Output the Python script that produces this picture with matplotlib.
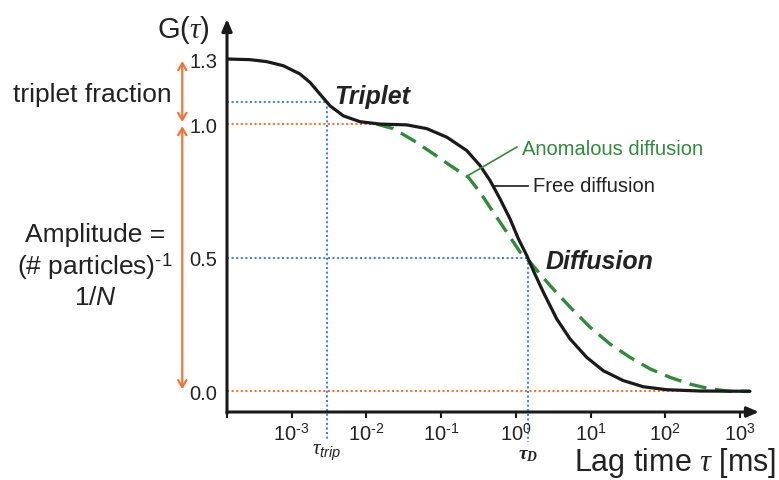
import numpy as np
import matplotlib.pyplot as plt
from matplotlib.ticker import FixedLocator, FuncFormatter, NullFormatter

plt.rcParams['font.family'] = 'Liberation Sans'
plt.rcParams['mathtext.fontset'] = 'custom'
plt.rcParams['mathtext.rm'] = 'Liberation Sans'
plt.rcParams['mathtext.it'] = 'Liberation Serif:italic'
plt.rcParams['mathtext.sf'] = 'Liberation Sans:italic'
plt.rcParams['mathtext.bf'] = 'Liberation Serif:bold:italic'

# values (lag time in ms, G(tau))
free_tau = [1.39e-4, 2.77e-4, 4.62e-4, 7.73e-4, 1.29e-3, 1.76e-3, 2.39e-3, 3.26e-3,
            4.91e-3, 8.20e-3, 1.52e-2, 3.46e-2, 6.41e-2, 0.119, 0.220, 0.331, 0.451,
            0.614, 0.836, 1.08, 1.40, 1.71, 2.33, 3.52, 5.31, 8.87, 14.8, 27.4, 50.8,
            104, 291, 1358]
free_g = [1.30, 1.297, 1.288, 1.269, 1.231, 1.192, 1.138, 1.084, 1.038, 1.011, 1.0,
          0.997, 0.983, 0.951, 0.901, 0.845, 0.789, 0.720, 0.645, 0.571, 0.508, 0.452,
          0.371, 0.271, 0.196, 0.127, 0.077, 0.040, 0.017, 0.006, 0.001, 0.0]

anom_tau = [1.37e-2, 2.29e-2, 4.24e-2, 7.85e-2, 0.132, 0.231, 0.331, 0.499, 0.753, 1.14,
            1.55, 2.86, 5.31, 9.82, 18.2, 33.7, 62.4, 116, 214, 397, 735, 1358]
anom_g = [1.0, 0.983, 0.939, 0.889, 0.845, 0.801, 0.745, 0.670, 0.596, 0.521, 0.483,
          0.396, 0.315, 0.240, 0.177, 0.127, 0.084, 0.052, 0.027, 0.009, 0.0, 0.0]

x_ticks = [1e-3, 1e-2, 1e-1, 1e0, 1e1, 1e2, 1e3]
y_ticks = [0.0, 0.5, 1.0, 1.3]
y_labels = ['0.0', '0.5', '1.0', '1.3']

tau_trip = 2.95e-3
g_trip = 1.103
tau_d = 1.45
g_plateau = 1.0
g_half = 0.5

black = '#1a1a1a'
green = '#2e8b3a'
orange = '#f07535'
blue = '#4a86d0'
text_c = '#222222'

# y axis is squeezed above 1.0 in the original sketch
k = 0.8116
def fwd(y):
    y = np.asarray(y, dtype=float)
    return np.where(y <= 1, y, 1 + (y - 1) * k)
def inv(t):
    t = np.asarray(t, dtype=float)
    return np.where(t <= 1, t, 1 + (t - 1) / k)

W, H = 779, 481
def fp(x, y):
    return (x / W, 1 - y / H)

fig = plt.figure(figsize=(W / 100, H / 100), dpi=100)
ax = fig.add_axes([227 / W, 1 - 413 / H, (759 - 227) / W, (413 - 20) / H])
ax.set_xscale('log')
ax.set_yscale('function', functions=(fwd, inv))
xlo, xhi = 10 ** -3.866, 10 ** 3.254
ax.set_xlim(xlo, xhi)
ax.set_ylim(-0.0775, 1.4845)

for s in ax.spines.values():
    s.set_visible(False)
ax.annotate('', xy=(1, 0), xytext=(0, 0), xycoords='axes fraction',
            arrowprops=dict(arrowstyle='-|>,head_length=0.7,head_width=0.3', lw=2.2,
                            color=black, shrinkA=0, shrinkB=0), annotation_clip=False)
ax.annotate('', xy=(0, 1), xytext=(0, -0.004), xycoords='axes fraction',
            arrowprops=dict(arrowstyle='-|>,head_length=0.7,head_width=0.3', lw=2.2,
                            color=black, shrinkA=0, shrinkB=0), annotation_clip=False)

def dec_label(v, pos):
    e = int(round(np.log10(v)))
    if e < 0:
        return r'$10^{\text{-}%d}$' % (-e)
    return r'$10^{%d}$' % e

ax.xaxis.set_major_locator(FixedLocator(x_ticks))
ax.xaxis.set_major_formatter(FuncFormatter(dec_label))
ax.xaxis.set_minor_locator(FixedLocator([xlo]))
ax.xaxis.set_minor_formatter(NullFormatter())
ax.tick_params(axis='x', which='both', length=4.5, width=1.5, color=black, pad=3,
               labelsize=14.5, labelcolor=text_c)
ax.set_yticks(y_ticks)
ax.set_yticklabels(y_labels)
ax.yaxis.set_minor_locator(FixedLocator([]))
ax.tick_params(axis='y', length=0, pad=7, labelsize=14.5, labelcolor=text_c)

# guide lines
dot = dict(ls=(0, (1, 1.2)), lw=1.5, zorder=1)
ax.plot([xlo, 1.5e-2], [g_plateau, g_plateau], color=orange, **dot)
ax.plot([xlo, 1358], [0, 0], color=orange, **dot)
ax.plot([xlo, tau_trip], [g_trip, g_trip], color=blue, **dot)
ax.plot([tau_trip, tau_trip], [g_trip, -0.179], color=blue, clip_on=False, **dot)
ax.plot([xlo, tau_d], [g_half, g_half], color=blue, **dot)
ax.plot([tau_d, tau_d], [g_half, -0.19], color=blue, clip_on=False, **dot)

# curves
ax.plot(anom_tau, anom_g, color=green, lw=2.4, ls=(0, (5.2, 2.6)), zorder=3,
        dash_joinstyle='round')
ax.plot(free_tau, free_g, color=black, lw=2.3, zorder=4, solid_capstyle='round',
        solid_joinstyle='round')

# callouts
ax.plot([0.231, 1.03], [0.808, 0.914], color=green, lw=1.2, zorder=5)
ax.plot([0.499, 1.47], [0.770, 0.770], color=black, lw=1.2, zorder=5)
ax.text(1.2, 0.910, 'Anomalous diffusion', color=green, fontsize=14.5, va='center', ha='left')
ax.text(1.71, 0.770, 'Free diffusion', color=text_c, fontsize=14.5, va='center', ha='left')
ax.text(1.19e-2, 1.131, 'Triplet', color=text_c, fontsize=18, fontweight='bold',
        style='italic', ha='center', va='center')
ax.text(13.0, 0.489, 'Diffusion', color=text_c, fontsize=18, fontweight='bold',
        style='italic', ha='center', va='center')

# tau labels under the axis
ax.text(tau_trip, -0.225, r'$\tau_{\mathsf{trip}}$', fontsize=15, color=text_c,
        ha='center', va='center', clip_on=False)
ax.text(tau_d, -0.235, r'$\mathbf{\tau}_{\mathbf{D}}$', fontsize=14, color=text_c,
        ha='center', va='center', clip_on=False)

# axis titles
fig.text(*fp(183, 30), r'G($\tau$)', fontsize=21, color=text_c, ha='center', va='center')
fig.text(*fp(776, 471), r'Lag time $\tau$ [ms]', fontsize=22, color=text_c,
         ha='right', va='baseline')

# amplitude arrows on the left
arr = dict(arrowstyle='<->,head_length=0.5,head_width=0.3', color=orange, lw=1.6,
           shrinkA=1.5, shrinkB=1.5)
ax.annotate('', xy=(182.3 / W, 1.3), xytext=(182.3 / W, g_plateau),
            xycoords=('figure fraction', 'data'), arrowprops=arr, annotation_clip=False)
ax.annotate('', xy=(182.3 / W, g_plateau), xytext=(182.3 / W, 0.0),
            xycoords=('figure fraction', 'data'), arrowprops=arr, annotation_clip=False)

fig.text(*fp(92.5, 95), 'triplet fraction', fontsize=19, color=text_c, ha='center', va='center')
fig.text(*fp(95, 235), 'Amplitude =', fontsize=19, color=text_c, ha='center', va='center')
fig.text(*fp(95, 267), r'(# particles)$^{\text{-}1}$', fontsize=19, color=text_c,
         ha='center', va='center')
fig.text(*fp(96, 298), r'1/$\mathsf{N}$', fontsize=19, color=text_c, ha='center', va='center')

fig.savefig('out.png', dpi=100)
